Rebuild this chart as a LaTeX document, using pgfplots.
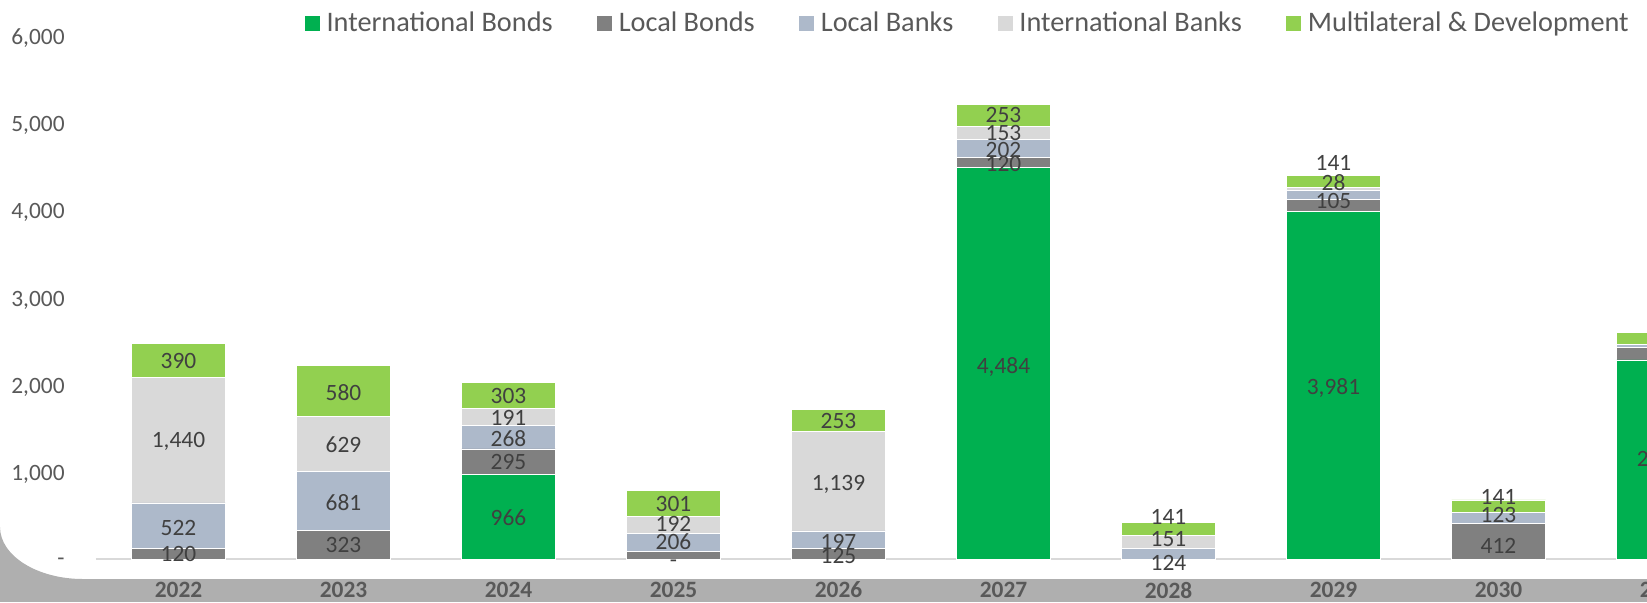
\documentclass[border=0pt]{standalone}
\usepackage{pgfplots}
\usepackage{pgfplotstable}
\pgfplotsset{compat=1.18}
\usepackage{fontspec}
\setmainfont{Carlito}

\definecolor{intbonds}{HTML}{00B050}
\definecolor{locbonds}{HTML}{808080}
\definecolor{locbanks}{HTML}{ADB9CA}
\definecolor{intbanks}{HTML}{D9D9D9}
\definecolor{multidev}{HTML}{92D050}
\definecolor{txtgray}{HTML}{595959}
\definecolor{lblgray}{HTML}{404040}
\definecolor{bandgray}{HTML}{AFAFAF}

% maturities per year (2022 = 0)
\pgfplotstableread{
x  ib    lb   lbk  ibk   md
0  0     120  522  1440  390
1  0     323  681  629   580
2  966   295  268  191   303
3  0     90   206  192   301
4  0     125  197  1139  253
5  4484  120  202  153   253
6  0     0    124  151   141
7  3981  140  105  28    141
8  0     412  123  0     141
9  2280  145  30   0     145
}\maturities

% data labels, placed as in the reference
\pgfplotstableread{
x  y     lab
0  2268  390
0  1350  1,440
0  355   522
0  62    120
1  1902  580
1  1305  629
1  641   681
1  160   323
2  1867  303
2  1615  191
2  1375  268
2  1111  295
2  470   966
3  630   301
3  400   192
3  195   206
3  -60   -
4  1580  253
4  859   1,139
4  195   197
4  34    125
5  5091  253
5  4875  153
5  4685  202
5  4525  120
5  2204  4,484
6  481   141
6  229   151
6  -46   124
7  4536  141
7  4307  28
7  4100  105
7  1963  3,981
8  710   141
8  504   123
8  149   412
9  1134  2,280
}\datalabels

\pgfplotsset{
  frame/.style={
    width=825pt, height=261.9pt, scale only axis,
    xmin=-0.5, xmax=9.5, ymin=0, ymax=6000,
  },
}

\begin{document}
\begin{tikzpicture}
\path[use as bounding box, clip] (-48pt,-21.5pt) rectangle (775.5pt,279.5pt);

% grey band with the rounded corner of the white panel
\fill[bandgray] (-48pt,-21.5pt) rectangle (775.5pt,-10pt);
\fill[bandgray] (-48pt,16pt) arc[start angle=180, end angle=270, x radius=41.5pt, y radius=26pt]
  -- (-48pt,-10pt) -- cycle;

\begin{axis}[
  frame,
  ybar stacked, bar width=47pt,
  axis x line=bottom, axis y line=left,
  x axis line style={-, draw=intbanks, line width=0.8pt},
  y axis line style={draw=none},
  major tick length=0pt,
  xtick={0,...,9},
  xticklabels={2022,2023,2024,2025,2026,2027,2028,2029,2030,2031},
  xticklabel style={anchor=center, inner sep=0pt, yshift=-15.5pt,
    font=\fontsize{11.7}{14}\selectfont\bfseries, text=txtgray},
  ytick={0,1000,...,6000},
  yticklabels={-,{1,000},{2,000},{3,000},{4,000},{5,000},{6,000}},
  yticklabel style={anchor=east, inner sep=0pt, xshift=-15.5pt, yshift=-1.5pt,
    font=\fontsize{11.7}{14}\selectfont, text=txtgray},
  legend columns=5,
  legend style={draw=none, fill=none, at={(0.529,1.023)}, anchor=center,
    font=\fontsize{14.15}{16}\selectfont, text=txtgray,
    /tikz/every even column/.append style={column sep=20.2pt}},
  legend image code/.code={\fill[#1, draw=none] (0pt,-3.7pt) rectangle (7.4pt,3.7pt);
    \path (8.6pt,0pt);},
  every axis plot/.append style={draw=white, line width=0.4pt},
]
\addplot[fill=intbonds] table[x=x, y=ib] {\maturities};
\addlegendentry{International Bonds}
\addplot[fill=locbonds] table[x=x, y=lb] {\maturities};
\addlegendentry{Local Bonds}
\addplot[fill=locbanks] table[x=x, y=lbk] {\maturities};
\addlegendentry{Local Banks}
\addplot[fill=intbanks] table[x=x, y=ibk] {\maturities};
\addlegendentry{International Banks}
\addplot[fill=multidev] table[x=x, y=md] {\maturities};
\addlegendentry{Multilateral \& Development}
\end{axis}

\begin{axis}[
  frame, hide axis, clip=false,
]
\addplot[draw=none, mark=none, nodes near coords, point meta=explicit symbolic,
  every node near coord/.append style={anchor=center, inner sep=0pt,
    font=\fontsize{11.7}{14}\selectfont, text=lblgray}]
  table[x=x, y=y, meta=lab] {\datalabels};
\end{axis}
\end{tikzpicture}
\end{document}
